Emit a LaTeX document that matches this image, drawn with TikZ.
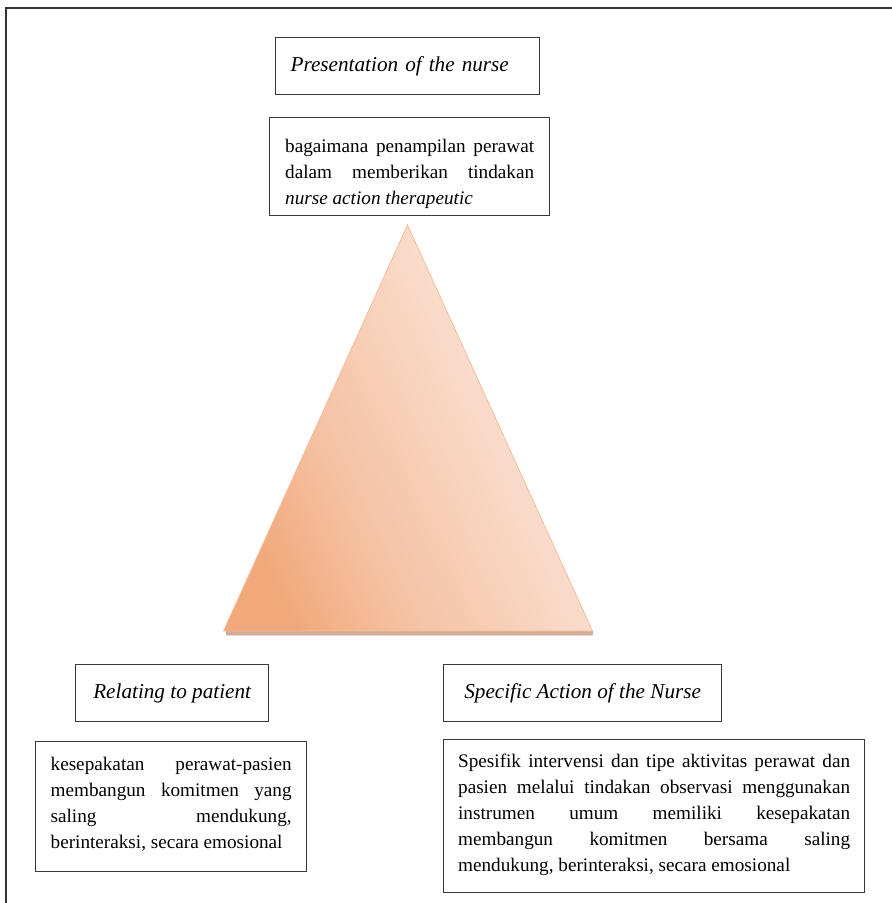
\documentclass[tikz,border=0pt]{standalone}
\usepackage{fontspec}
\setmainfont{Liberation Serif}
\newcommand\jl[1]{\makebox[\linewidth][s]{#1}}
\newcommand\topgap[1]{\rule{0pt}{#1pt}}
\newcommand\botgap[1]{\rule[-#1pt]{0pt}{#1pt}}
\definecolor{triDark}{RGB}{241,168,122}
\definecolor{triMidA}{RGB}{245,192,160}
\definecolor{triMidB}{RGB}{248,213,193}
\definecolor{triLight}{RGB}{252,234,224}
\definecolor{triEdge}{RGB}{246,188,154}
\definecolor{baseShadow}{RGB}{196,150,122}
\pgfdeclarehorizontalshading{triShade}{100bp}{%
  color(0bp)=(triDark); color(25bp)=(triDark); color(38bp)=(triMidA);
  color(55bp)=(triMidB); color(75bp)=(triLight); color(100bp)=(triLight)}
\tikzset{
  frame/.style={draw=black!80, line width=1.5pt},
  box/.style={draw=black!78, line width=1.3pt, inner sep=0pt, anchor=north west, fill=white},
  titlebox/.style={box, font=\fontsize{21.2}{25}\selectfont\itshape},
  bodybox/.style={box, font=\fontsize{19.2}{26}\selectfont},
}
\begin{document}
\begin{tikzpicture}[x=1pt,y=-1pt]
  \useasboundingbox (0,0) rectangle (892,903);

  % outer frame (top and left edges)
  \coordinate (frBL) at (6,903);
  \coordinate (frTL) at (6,8);
  \coordinate (frTR) at (892,8);
  \draw[frame] (frBL) -- (frTL) -- (frTR);

  % triangle with its base shadow
  \coordinate (apex) at (407.5,225);
  \coordinate (baseL) at (223.5,631);
  \coordinate (baseR) at (592.5,631);
  \fill[baseShadow, opacity=0.8] (226,631) -- (593,631) -- (593,634.5) -- (226,634.5) -- cycle;
  \fill[baseShadow!45!white, opacity=0.8] (227,634.5) -- (593,634.5) -- (593,636) -- (227,636) -- cycle;
  \shade[shading=triShade, shading angle=25]
    (apex) -- (baseR) -- (baseL) -- cycle;
  \draw[triEdge, line width=0.8pt, line join=miter] (apex) -- (baseR) -- (baseL) -- cycle;

  % top pair
  \node[titlebox, minimum width=264pt, minimum height=57pt, text width=234pt, align=left]
    (presT) at (275,37) {Presentation of the nurse};
  \node[bodybox, minimum width=280pt, minimum height=98pt] (presD) at (269,117)
    {\parbox{249pt}{%
      \topgap{32}\jl{bagaimana penampilan perawat}\\
      \jl{dalam memberikan tindakan}\\
      \textit{nurse action therapeutic}\botgap{8}}};

  % lower left pair
  \node[titlebox, minimum width=193pt, minimum height=57pt, align=center]
    (relT) at (75,664) {Relating to patient};
  \node[bodybox, minimum width=271pt, minimum height=130pt] (relD) at (35,741)
    {\parbox{241pt}{%
      \topgap{16}\jl{kesepakatan perawat-pasien}\\
      \jl{membangun komitmen yang}\\
      \jl{saling mendukung,}\\
      berinteraksi, secara emosional\botgap{10}}};

  % lower right pair
  \node[titlebox, minimum width=278pt, minimum height=57pt, align=center]
    (specT) at (443,664) {Specific Action of the Nurse};
  \node[bodybox, minimum width=421pt, minimum height=153pt] (specD) at (443,739)
    {\parbox{392pt}{%
      \topgap{16}\jl{Spesifik intervensi dan tipe aktivitas perawat dan}\\
      \jl{pasien melalui tindakan observasi menggunakan}\\
      \jl{instrumen umum memiliki kesepakatan}\\
      \jl{membangun komitmen bersama saling}\\
      mendukung, berinteraksi, secara emosional\botgap{10}}};
\end{tikzpicture}
\end{document}
